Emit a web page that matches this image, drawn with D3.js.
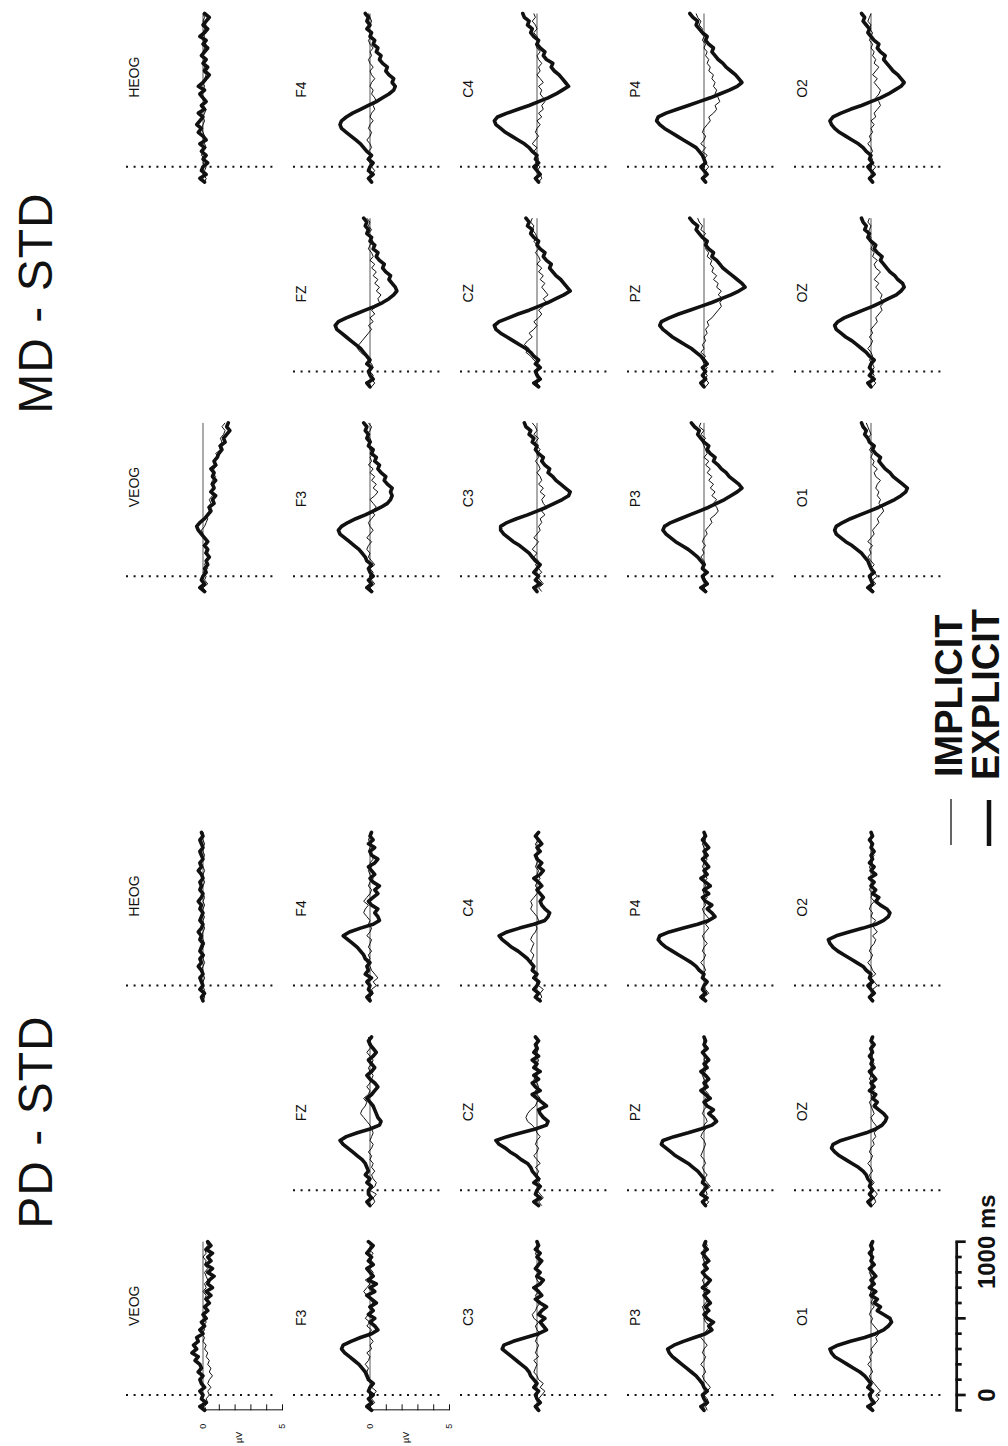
<!DOCTYPE html>
<html>
<head>
<meta charset="utf-8">
<script src="https://cdn.jsdelivr.net/npm/d3@7"></script>
<style>
  body { margin: 0; background: #fff; }
  svg { display: block; font-family: "Liberation Sans", Arial, sans-serif; }
</style>
</head>
<body>
<script>
// sample times (ms), one value every 25 ms
var times = [-100,-75,-50,-25,0, 25,50,75,100,125, 150,175,200,225,250, 275,300,325,350,375,
  400,425,450,475,500, 525,550,575,600,625, 650,675,700,725,750, 775,800,825,850,875, 900,925,950,975,1000];

var conditions = ["PD - STD", "MD - STD"];
var channelGrid = [
  ["VEOG", null, "HEOG"],
  ["F3", "FZ", "F4"],
  ["C3", "CZ", "C4"],
  ["P3", "PZ", "P4"],
  ["O1", "OZ", "O2"]
];
var uvTicks = [0, 1, 2, 3, 4, 5];
var msTicks = [-100, 0, 100, 200, 300, 400, 500, 600, 700, 800, 900, 1000];
var msMajor = [0, 500, 1000];
var legendLabels = ["IMPLICIT", "EXPLICIT"];

// ---- PD - STD (uV) ----
var pd_VEOG_exp = [0.1,-0.2,0.2,-0.1,0.0, -0.2,0.1,-0.1,-0.2,0.0, -0.3,-0.1,-0.2,-0.5,-0.3, -0.7,-0.4,-0.6,-0.3,-0.4, 0.0,-0.2,0.1,-0.1,0.2, 0.0,0.3,0.1,0.4,0.2, 0.5,0.2,0.6,0.3,0.4, 0.7,0.3,0.6,0.2,0.5, 0.3,0.6,0.2,0.5,0.3];
var pd_VEOG_imp = [0.2,0.1,0.3,0.2,0.4, 0.3,0.5,0.3,0.4,0.6, 0.4,0.5,0.3,0.4,0.2, 0.3,0.1,0.2,0.0,0.1, -0.1,0.1,0.0,0.2,0.1, 0.0,0.2,0.1,0.3,0.1, 0.2,0.0,0.2,0.1,0.3, 0.2,0.1,0.3,0.1,0.2, 0.0,0.2,0.1,0.3,0.2];
var pd_HEOG_exp = [0.0,-0.1,0.1,-0.2,0.0, -0.1,-0.2,0.0,-0.1,-0.3, -0.1,-0.2,0.0,-0.2,-0.1, 0.0,-0.2,-0.1,-0.3,-0.1, 0.0,-0.2,-0.1,0.0,-0.2, -0.1,-0.3,-0.1,0.0,-0.2, -0.1,-0.2,0.0,-0.1,-0.3, -0.1,-0.2,0.0,-0.1,-0.2, 0.0,-0.1,-0.2,0.0,-0.1];
var pd_HEOG_imp = [0.0,0.1,0.0,0.1,-0.1, 0.0,0.1,0.0,-0.1,0.0, 0.1,0.0,0.1,-0.1,0.0, 0.1,0.0,-0.1,0.0,0.1, 0.0,0.0,0.1,-0.1,0.0, 0.1,0.0,0.1,0.0,-0.1, 0.0,0.1,0.0,0.0,0.1, 0.0,-0.1,0.0,0.1,0.0, 0.0,0.1,0.0,-0.1,0.0];
var pd_F3_exp = [0.1,-0.2,0.1,-0.1,0.2, -0.1,0.0,0.2,-0.1,-0.2, -0.3,-0.5,-0.7,-1.0,-1.3, -1.6,-1.8,-1.7,-1.2,-0.6, 0.1,0.5,0.3,0.0,0.3, -0.1,0.2,0.0,0.4,0.1, -0.2,0.3,0.0,0.4,-0.1, 0.2,0.0,-0.2,0.2,-0.1, 0.1,-0.2,0.0,0.2,-0.1];
var pd_F3_imp = [0.2,0.0,0.3,0.1,0.2, 0.4,0.1,0.3,0.0,-0.1, -0.2,-0.1,-0.3,-0.1,0.0, -0.2,0.1,0.0,0.2,0.0, -0.1,0.1,-0.2,0.0,-0.3, -0.1,0.1,-0.1,0.2,0.0, -0.2,-0.4,-0.2,0.0,-0.3, 0.1,0.2,0.0,0.3,0.1, 0.0,0.2,-0.1,0.1,0.0];
var pd_FZ_exp = [0.0,-0.2,0.1,-0.1,-0.1, 0.1,-0.2,0.0,-0.3,-0.1, -0.2,-0.3,-0.5,-0.8,-1.1, -1.4,-1.7,-1.9,-1.5,-0.8, 0.0,0.6,0.7,0.5,0.4, 0.3,0.2,0.0,-0.2,0.1, 0.3,0.5,0.3,0.0,-0.2, 0.1,0.3,0.1,-0.1,0.2, 0.4,0.2,0.0,-0.1,0.1];
var pd_FZ_imp = [0.1,0.3,0.2,0.4,0.0, 0.3,0.4,0.2,0.1,0.3, 0.1,0.2,0.0,0.1,-0.1, 0.1,0.2,0.0,0.1,0.2, 0.1,0.0,-0.2,-0.4,-0.6, -0.5,-0.3,-0.2,-0.4,-0.1, 0.0,-0.2,0.0,0.1,0.2, 0.0,-0.1,0.1,0.2,0.0, -0.2,0.0,0.1,0.0,-0.1];
var pd_F4_exp = [0.0,-0.2,0.1,-0.1,0.0, -0.2,0.1,-0.3,-0.1,-0.2, 0.0,-0.3,-0.4,-0.6,-0.8, -1.1,-1.4,-1.7,-1.3,-0.6, 0.2,0.6,0.5,0.3,0.5, 0.1,-0.1,0.2,0.5,0.3, 0.6,0.2,0.0,0.3,0.1, -0.1,0.3,0.5,0.1,0.0, 0.3,-0.1,0.2,0.0,0.1];
var pd_F4_imp = [0.1,0.0,0.2,0.1,0.4, 0.2,0.5,0.3,0.1,0.0, -0.2,0.0,-0.1,0.1,-0.1, 0.0,0.1,-0.2,0.0,0.1, -0.1,0.0,-0.2,-0.4,-0.3, -0.1,-0.4,-0.2,0.0,0.1, -0.1,0.0,0.2,0.0,-0.1, 0.1,0.0,0.2,0.1,-0.1, 0.0,0.1,-0.1,0.0,0.1];
var pd_C3_exp = [0.1,-0.1,0.2,0.0,-0.1, 0.1,-0.2,0.0,-0.2,-0.4, -0.5,-0.7,-1.0,-1.3,-1.6, -1.9,-2.2,-2.1,-1.5,-0.7, 0.1,0.6,0.4,0.2,0.5, 0.1,0.3,0.6,0.2,-0.1, 0.3,0.1,-0.2,0.2,0.4, 0.0,0.2,-0.1,0.1,0.3, 0.0,0.2,-0.1,0.1,0.0];
var pd_C3_imp = [0.2,0.0,0.3,0.1,0.3, 0.5,0.2,0.4,0.1,0.0, -0.2,-0.1,0.0,-0.2,0.1, -0.1,0.0,0.1,-0.1,0.0, 0.2,0.0,-0.1,0.1,-0.2, -0.3,-0.1,0.0,0.2,0.0, -0.1,0.1,0.0,0.2,0.0, -0.1,0.1,0.0,0.2,0.1, 0.0,-0.1,0.1,0.0,0.1];
var pd_CZ_exp = [0.1,-0.2,0.2,-0.1,0.0, 0.2,-0.2,0.1,-0.1,-0.3, -0.4,-0.6,-1.0,-1.3,-1.7, -2.0,-2.4,-2.6,-1.9,-1.0, -0.1,0.6,0.7,0.4,0.2, 0.1,0.6,0.3,0.0,-0.3, 0.2,-0.1,-0.3,0.1,-0.2, 0.2,-0.2,0.0,-0.3,0.1, -0.2,0.0,-0.1,0.1,-0.1];
var pd_CZ_imp = [0.3,0.1,0.4,0.2,0.0, 0.3,0.1,0.2,0.0,0.1, -0.1,0.2,0.0,-0.2,0.0, 0.1,-0.1,0.0,0.2,0.0, -0.1,-0.3,-0.6,-0.7,-0.6, -0.4,-0.1,0.0,0.2,0.0, -0.1,0.1,0.0,-0.2,0.0, 0.1,-0.1,0.0,0.1,-0.1, 0.0,0.1,0.0,0.1,0.0];
var pd_C4_exp = [0.2,-0.1,0.1,-0.2,0.0, 0.1,-0.2,0.0,-0.3,-0.2, -0.4,-0.6,-0.9,-1.2,-1.6, -1.9,-2.2,-2.4,-1.9,-1.1, -0.2,0.5,0.7,0.8,0.5, 0.3,0.2,0.4,0.2,0.0, 0.3,0.1,-0.2,0.2,0.4, 0.1,0.3,0.0,-0.1,0.2, 0.0,0.3,0.1,-0.1,0.1];
var pd_C4_imp = [0.1,0.3,0.2,0.4,0.1, 0.2,-0.1,0.0,-0.3,-0.2, -0.4,-0.3,-0.2,-0.4,-0.3, -0.2,-0.4,-0.3,-0.1,0.0, -0.1,0.1,0.0,-0.2,-0.4, -0.3,-0.4,-0.2,0.0,0.1, -0.1,0.0,0.2,0.0,0.1, -0.1,0.0,0.1,0.0,0.2, 0.0,-0.1,0.1,0.0,0.1];
var pd_P3_exp = [0.0,-0.2,0.2,0.0,-0.1, 0.2,0.0,-0.1,-0.3,-0.5, -0.8,-1.1,-1.4,-1.7,-2.0, -2.2,-2.3,-1.9,-1.3,-0.6, 0.1,0.5,0.3,0.6,0.2, 0.0,0.3,0.1,0.4,0.2, 0.0,0.3,-0.1,0.2,0.4, 0.1,-0.1,0.2,0.0,0.3, 0.1,-0.1,0.2,0.0,0.1];
var pd_P3_imp = [0.2,0.1,0.3,0.2,0.0, 0.2,0.4,0.2,0.0,-0.1, 0.1,0.0,-0.2,0.0,0.1, -0.1,0.0,0.2,0.0,-0.2, 0.0,0.2,0.4,0.1,0.0, 0.2,0.0,-0.1,0.1,0.3, 0.1,0.0,0.2,0.0,-0.1, 0.1,0.0,0.2,0.1,0.0, -0.1,0.1,0.0,0.2,0.1];
var pd_PZ_exp = [0.1,-0.1,0.2,-0.2,0.0, 0.2,-0.1,0.0,-0.2,-0.4, -0.7,-1.0,-1.4,-1.8,-2.1, -2.4,-2.7,-2.6,-1.9,-1.0, -0.2,0.5,0.8,0.6,0.3, 0.6,0.2,0.0,0.4,0.1, -0.2,0.2,0.0,0.3,0.1, -0.2,0.2,0.0,0.3,0.1, -0.1,0.2,0.0,0.1,0.0];
var pd_PZ_imp = [0.1,0.3,0.0,0.2,0.1, 0.4,0.2,0.0,0.2,0.0, -0.1,0.1,0.0,-0.2,-0.1, 0.0,0.1,0.0,-0.2,-0.1, 0.1,0.0,0.2,0.1,-0.1, 0.0,0.2,0.0,0.1,0.3, 0.1,0.0,0.2,0.0,-0.1, 0.1,0.0,0.2,0.0,0.1, 0.0,0.2,0.1,0.0,0.1];
var pd_P4_exp = [0.1,-0.2,0.1,-0.1,0.0, 0.2,-0.1,0.0,-0.3,-0.5, -0.8,-1.2,-1.6,-2.0,-2.4, -2.7,-2.9,-2.8,-2.2,-1.3, -0.4,0.3,0.7,0.5,0.2, 0.5,0.1,-0.1,0.3,0.0, 0.4,0.1,-0.2,0.2,0.0, 0.3,0.1,-0.1,0.2,0.0, 0.3,0.1,-0.1,0.1,0.0];
var pd_P4_imp = [0.2,0.0,0.3,0.1,0.0, 0.2,0.0,-0.1,0.1,0.0, -0.2,0.0,0.1,-0.1,0.0, 0.2,0.0,-0.1,0.1,0.3, 0.1,0.4,0.2,0.0,-0.1, 0.1,0.0,0.2,0.0,-0.1, 0.1,0.0,0.2,0.0,0.1, -0.1,0.0,0.2,0.0,0.1, 0.0,-0.1,0.1,0.0,0.1];
var pd_O1_exp = [0.1,-0.2,0.2,0.0,-0.1, 0.1,-0.2,0.0,-0.2,-0.4, -0.7,-1.1,-1.5,-1.9,-2.3, -2.5,-2.6,-2.1,-1.3,-0.4, 0.3,0.8,1.1,1.3,1.2, 0.8,0.4,0.6,0.2,0.4, 0.0,0.3,-0.1,0.2,0.0, 0.3,0.1,-0.1,0.2,0.0, 0.1,-0.1,0.1,0.0,0.1];
var pd_O1_imp = [0.2,0.0,0.3,0.5,0.3, 0.6,0.4,0.2,0.0,-0.1, 0.1,0.0,-0.2,0.0,-0.1, 0.1,0.0,0.2,0.4,0.3, 0.5,0.4,0.2,0.0,0.1, -0.1,0.0,0.2,0.0,0.1, -0.1,0.0,0.1,0.0,0.2, 0.0,-0.1,0.1,0.0,0.1, 0.0,0.1,0.0,-0.1,0.0];
var pd_OZ_exp = [0.0,-0.2,0.1,-0.1,0.1, -0.1,0.0,-0.2,-0.3,-0.5, -0.8,-1.2,-1.6,-2.0,-2.3, -2.5,-2.4,-1.9,-1.1,-0.3, 0.3,0.7,0.9,1.0,0.8, 0.5,0.2,0.4,0.1,0.3, -0.1,0.2,0.0,0.3,0.1, -0.1,0.2,0.0,0.1,-0.1, 0.1,0.0,0.2,0.0,0.1];
var pd_OZ_imp = [0.1,0.3,0.2,0.4,0.2, 0.0,0.2,0.0,-0.1,0.1, 0.0,-0.2,0.0,0.1,-0.1, 0.0,0.2,0.1,0.3,0.2, 0.4,0.3,0.1,0.0,0.2, 0.1,0.0,-0.1,0.1,0.0, 0.2,0.0,0.1,-0.1,0.0, 0.1,0.0,0.2,0.0,0.1, 0.0,-0.1,0.1,0.0,0.1];
var pd_O2_exp = [0.1,-0.1,0.2,0.0,-0.2, 0.1,-0.1,0.0,-0.3,-0.5, -0.9,-1.3,-1.7,-2.1,-2.4, -2.6,-2.7,-2.2,-1.4,-0.5, 0.3,0.8,1.1,1.2,1.0, 0.6,0.3,0.5,0.1,0.3, 0.0,0.2,-0.1,0.3,0.0, 0.2,-0.1,0.1,0.0,0.2, 0.0,0.1,-0.1,0.1,0.0];
var pd_O2_imp = [0.2,0.0,0.3,0.1,0.4, 0.2,0.0,0.3,0.1,0.0, -0.2,0.0,0.1,-0.1,0.0, 0.2,0.3,0.1,0.4,0.2, 0.1,0.3,0.0,0.1,-0.1, 0.0,0.2,0.0,0.1,-0.1, 0.0,0.2,0.0,0.1,0.0, -0.1,0.1,0.0,0.2,0.0, 0.1,0.0,-0.1,0.1,0.0];

// ---- MD - STD (uV) ----
var md_VEOG_exp = [0.1,-0.2,0.1,-0.1,0.0, 0.2,0.1,0.3,0.2,0.4, 0.2,0.3,0.1,0.3,0.1, -0.1,-0.3,-0.4,-0.2,0.1, 0.3,0.5,0.4,0.7,0.6, 0.8,0.5,0.7,0.6,0.8, 0.6,0.7,0.5,0.8,0.7, 0.9,1.0,1.2,1.1,1.4, 1.3,1.5,1.7,1.5,1.6];
var md_VEOG_imp = [0.2,0.0,0.3,0.1,0.2, 0.0,0.3,0.1,0.2,0.3, 0.1,0.2,0.0,0.2,0.1, 0.0,-0.1,0.1,0.2,0.3, 0.2,0.4,0.3,0.5,0.4, 0.6,0.5,0.7,0.5,0.6, 0.8,0.6,0.7,0.9,0.7, 1.0,0.8,1.1,1.0,1.2, 1.1,1.3,1.4,1.2,1.4];
var md_HEOG_exp = [0.1,-0.2,0.2,-0.1,0.0, 0.3,0.0,0.2,-0.1,0.1, -0.2,0.2,0.0,-0.3,-0.1, -0.4,-0.2,0.0,-0.3,0.1, -0.1,0.2,0.0,-0.2,0.1, -0.3,0.0,0.2,0.4,0.1, 0.3,0.0,0.2,-0.1,0.1, 0.3,0.0,0.2,-0.2,0.1, 0.3,0.0,0.2,0.4,0.1];
var md_HEOG_imp = [0.1,0.2,0.0,0.1,0.2, 0.0,0.1,-0.1,0.0,0.2, 0.1,0.0,0.1,0.0,-0.1, 0.0,0.1,0.0,0.1,0.2, 0.0,0.1,0.0,-0.1,0.0, 0.1,0.0,0.1,0.2,0.0, 0.1,0.0,0.1,-0.1,0.0, 0.1,0.2,0.0,0.1,0.0, 0.1,0.2,0.0,0.1,0.0];
var md_F3_exp = [0.1,-0.2,0.1,-0.1,0.2, 0.0,-0.1,0.1,-0.2,-0.3, -0.5,-0.7,-1.0,-1.3,-1.6, -1.9,-2.0,-1.8,-1.4,-0.9, -0.3,0.2,0.7,1.1,1.3, 1.4,1.3,1.4,1.1,0.9, 1.0,0.7,0.5,0.6,0.3, 0.4,0.1,0.2,-0.1,0.0, -0.2,-0.1,-0.3,-0.2,-0.4];
var md_F3_imp = [0.2,0.0,0.3,0.1,0.0, 0.2,0.0,0.3,0.1,-0.1, 0.0,-0.2,-0.1,0.1,-0.2, 0.0,0.2,0.0,-0.1,0.1, 0.3,0.1,0.4,0.2,0.0, 0.3,0.5,0.2,0.4,0.1, 0.3,0.0,0.2,-0.1,0.1, 0.0,0.2,0.0,-0.1,0.1, 0.0,-0.2,0.0,0.1,-0.1];
var md_FZ_exp = [0.0,-0.2,0.2,0.0,-0.1, 0.1,-0.2,0.0,-0.2,-0.4, -0.6,-0.9,-1.2,-1.5,-1.8, -2.1,-2.2,-2.0,-1.5,-0.9, -0.3,0.3,0.8,1.2,1.5, 1.7,1.6,1.4,1.2,1.3, 1.0,0.8,0.9,0.6,0.4, 0.5,0.2,0.3,0.0,0.1, -0.2,-0.1,-0.3,-0.2,-0.4];
var md_FZ_imp = [0.1,0.3,0.1,0.2,0.0, 0.2,0.1,-0.1,-0.3,-0.6, -0.8,-0.7,-0.5,-0.3,-0.1, 0.1,-0.1,0.2,0.0,0.3, 0.1,0.4,0.6,0.5,0.7, 0.4,0.6,0.3,0.5,0.2, 0.4,0.1,0.3,0.0,0.2, 0.1,-0.1,0.0,0.2,0.0, -0.1,0.1,-0.1,0.0,-0.2];
var md_F4_exp = [0.1,-0.1,0.2,-0.1,0.0, 0.2,-0.1,0.1,-0.2,-0.4, -0.6,-0.9,-1.2,-1.5,-1.8, -1.9,-1.8,-1.5,-1.1,-0.6, -0.1,0.4,0.8,1.2,1.5, 1.6,1.4,1.5,1.2,1.0, 1.1,0.8,0.6,0.7,0.4, 0.5,0.2,0.3,0.0,0.1, -0.2,0.0,-0.2,-0.1,-0.3];
var md_F4_imp = [0.2,0.0,0.1,0.3,0.1, 0.0,-0.2,0.0,-0.1,0.1, 0.0,-0.2,0.0,0.1,-0.1, 0.0,0.2,0.0,0.1,0.3, 0.2,0.4,0.3,0.1,0.2, 0.0,0.1,0.3,0.1,0.0, 0.2,0.0,-0.1,0.1,0.0, 0.2,0.0,-0.1,0.1,0.0, -0.1,0.0,0.1,0.0,-0.1];
var md_C3_exp = [0.0,-0.2,0.2,-0.1,0.1, -0.2,0.0,0.2,-0.1,-0.3, -0.5,-0.8,-1.1,-1.5,-1.8, -2.1,-2.3,-2.3,-1.9,-1.3, -0.6,0.0,0.6,1.1,1.6, 2.0,2.1,1.8,1.5,1.2, 1.0,0.7,0.8,0.5,0.3, 0.4,0.1,-0.1,0.0,-0.3, -0.2,-0.5,-0.4,-0.7,-0.8];
var md_C3_imp = [0.3,0.1,0.4,0.2,0.0, 0.3,0.1,-0.1,0.1,-0.2, 0.0,-0.3,-0.1,0.1,-0.2, 0.0,0.2,0.1,0.3,0.2, 0.5,0.3,0.6,0.4,0.3, 0.5,0.2,0.4,0.1,0.3, 0.2,0.0,0.2,0.1,-0.1, 0.1,0.0,0.2,0.0,-0.1, 0.1,-0.2,0.0,-0.1,-0.3];
var md_CZ_exp = [0.1,-0.2,0.2,0.0,-0.1, 0.2,-0.1,0.1,-0.2,-0.4, -0.7,-1.1,-1.5,-1.9,-2.3, -2.6,-2.7,-2.4,-1.8,-1.2, -0.5,0.1,0.7,1.2,1.7, 2.1,1.9,1.7,1.5,1.2, 1.0,0.8,0.9,0.6,0.4, 0.5,0.2,0.0,0.1,-0.2, -0.4,-0.3,-0.6,-0.5,-0.7];
var md_CZ_imp = [0.2,0.0,0.3,0.1,0.0, 0.3,0.1,-0.2,-0.4,-0.7, -0.5,-0.8,-0.6,-0.3,-0.5, -0.2,0.0,-0.2,0.1,0.3, 0.1,0.4,0.6,0.4,0.7, 0.5,0.3,0.5,0.2,0.4, 0.1,0.3,0.0,0.2,0.1, -0.1,0.1,0.0,-0.2,0.0, -0.1,-0.3,-0.2,-0.4,-0.3];
var md_C4_exp = [0.1,-0.1,0.2,0.0,-0.2, 0.1,-0.1,0.0,-0.3,-0.5, -0.8,-1.2,-1.6,-2.0,-2.3, -2.6,-2.7,-2.5,-1.9,-1.2, -0.5,0.1,0.7,1.2,1.6, 2.0,1.8,1.6,1.4,1.1, 0.9,1.0,0.6,0.4,0.5, 0.2,0.0,0.1,-0.2,-0.4, -0.3,-0.6,-0.5,-0.8,-0.9];
var md_C4_imp = [0.1,0.3,0.2,0.0,0.2, -0.1,0.1,0.0,-0.2,0.0, -0.3,-0.1,0.1,-0.1,0.0, 0.2,0.0,0.3,0.1,0.4, 0.3,0.5,0.4,0.2,0.3, 0.1,0.4,0.2,0.0,0.2, 0.1,0.3,0.1,0.0,0.2, 0.0,-0.1,0.1,0.0,-0.2, 0.0,-0.1,-0.3,-0.1,-0.2];
var md_P3_exp = [0.1,-0.2,0.2,0.0,-0.1, 0.2,-0.1,0.0,-0.2,-0.4, -0.7,-1.0,-1.4,-1.8,-2.1, -2.4,-2.6,-2.5,-2.1,-1.5, -0.9,-0.3,0.3,0.8,1.3, 1.7,2.1,2.4,2.2,1.9, 1.6,1.4,1.1,0.9,0.6, 0.7,0.4,0.2,0.3,0.0, -0.2,-0.4,-0.3,-0.6,-0.8];
var md_P3_imp = [0.2,0.0,0.3,0.1,0.0, 0.2,-0.1,0.1,0.0,-0.2, 0.0,-0.1,0.1,-0.1,0.0, 0.2,0.1,0.3,0.5,0.4, 0.7,0.9,0.8,0.6,0.8, 0.5,0.7,0.4,0.6,0.3, 0.5,0.2,0.4,0.1,0.3, 0.0,0.2,0.1,0.0,-0.1, 0.1,-0.2,0.0,-0.3,-0.2];
var md_PZ_exp = [0.0,-0.2,0.1,-0.1,0.1, -0.1,0.2,0.0,-0.2,-0.5, -0.8,-1.2,-1.6,-2.0,-2.3, -2.6,-2.8,-2.7,-2.2,-1.6, -0.9,-0.2,0.5,1.1,1.7, 2.2,2.6,2.4,2.1,1.8, 1.5,1.2,1.0,0.8,0.5, 0.6,0.3,0.1,0.2,-0.1, -0.3,-0.5,-0.4,-0.7,-0.9];
var md_PZ_imp = [0.1,0.3,0.1,0.2,0.0, 0.2,0.0,-0.1,0.1,-0.2, 0.0,-0.1,0.1,0.0,0.2, 0.1,0.3,0.2,0.5,0.7, 0.9,1.1,1.0,1.2,0.9, 1.1,0.8,0.9,0.6,0.8, 0.5,0.6,0.4,0.5,0.2, 0.3,0.1,0.2,0.0,-0.1, 0.1,-0.2,-0.1,-0.3,-0.4];
var md_P4_exp = [0.1,-0.1,0.2,0.0,-0.2, 0.1,0.0,-0.1,-0.3,-0.5, -0.9,-1.3,-1.7,-2.1,-2.5, -2.8,-3.0,-2.9,-2.4,-1.7, -1.0,-0.3,0.4,1.0,1.6, 2.1,2.4,2.2,2.0,1.7, 1.4,1.2,0.9,0.7,0.5, 0.6,0.3,0.1,0.2,-0.1, -0.3,-0.5,-0.4,-0.7,-0.9];
var md_P4_imp = [0.2,0.0,0.2,0.1,0.3, 0.1,0.0,0.2,-0.1,0.1, -0.2,0.0,0.1,-0.1,0.0, 0.2,0.4,0.3,0.6,0.8, 0.7,1.0,0.9,0.7,0.8, 0.6,0.7,0.5,0.6,0.3, 0.4,0.2,0.3,0.1,0.2, 0.0,0.1,-0.1,0.0,-0.2, -0.1,-0.3,-0.2,-0.4,-0.5];
var md_O1_exp = [0.1,-0.2,0.1,0.0,-0.1, 0.2,0.0,-0.1,-0.2,-0.4, -0.6,-0.9,-1.2,-1.6,-1.9, -2.2,-2.3,-2.2,-1.8,-1.3, -0.7,-0.1,0.5,1.0,1.5, 1.9,2.2,2.3,2.0,1.7, 1.4,1.2,0.9,0.7,0.5, 0.6,0.3,0.1,0.2,-0.1, -0.2,-0.4,-0.3,-0.5,-0.6];
var md_O1_imp = [0.2,0.0,0.3,0.1,0.4, 0.2,0.0,0.2,0.0,-0.2, 0.0,-0.1,0.1,-0.2,0.0, 0.2,0.1,0.3,0.5,0.4, 0.6,0.8,0.7,0.5,0.6, 0.4,0.5,0.3,0.4,0.6, 0.3,0.2,0.4,0.1,0.2, 0.0,0.1,-0.1,0.1,0.0, -0.2,0.0,-0.1,-0.2,-0.3];
var md_OZ_exp = [0.0,-0.2,0.2,-0.1,0.1, -0.1,0.0,0.2,-0.1,-0.3, -0.6,-0.9,-1.2,-1.6,-1.9, -2.2,-2.3,-2.1,-1.7,-1.1, -0.5,0.1,0.6,1.1,1.6, 1.9,2.1,2.0,1.7,1.5, 1.2,1.0,0.8,0.6,0.7, 0.4,0.2,0.3,0.0,-0.2, -0.1,-0.4,-0.3,-0.5,-0.6];
var md_OZ_imp = [0.1,0.3,0.1,0.2,0.0, 0.2,0.1,-0.1,0.1,0.0, -0.2,0.0,0.1,-0.1,0.1, 0.0,0.2,0.4,0.3,0.5, 0.7,0.6,0.8,0.6,0.7, 0.5,0.3,0.5,0.2,0.4, 0.6,0.3,0.2,0.4,0.1, 0.2,0.0,0.1,-0.1,0.0, -0.2,-0.1,0.0,-0.2,-0.1];
var md_O2_exp = [0.1,-0.1,0.2,0.0,-0.2, 0.1,-0.1,0.0,-0.3,-0.5, -0.8,-1.2,-1.6,-2.0,-2.3, -2.5,-2.6,-2.4,-1.9,-1.3, -0.6,0.0,0.6,1.1,1.5, 1.9,2.1,1.9,1.7,1.4, 1.2,1.0,0.8,0.9,0.6, 0.4,0.5,0.2,0.0,-0.2, -0.1,-0.3,-0.5,-0.4,-0.6];
var md_O2_imp = [0.2,0.0,0.2,0.1,0.3, 0.0,0.1,-0.1,0.1,0.0, -0.2,0.0,-0.1,0.1,0.0, 0.2,0.0,0.3,0.2,0.4, 0.6,0.5,0.3,0.5,0.6, 0.4,0.2,0.4,0.1,0.3, 0.5,0.2,0.3,0.1,0.2, 0.0,0.1,-0.1,0.0,0.1, -0.1,0.0,-0.2,-0.1,0.0];

// lookup table built from the arrays above: [explicit, implicit]
var waves = {
  "PD - STD": {
    VEOG: [pd_VEOG_exp, pd_VEOG_imp], HEOG: [pd_HEOG_exp, pd_HEOG_imp],
    F3: [pd_F3_exp, pd_F3_imp], FZ: [pd_FZ_exp, pd_FZ_imp], F4: [pd_F4_exp, pd_F4_imp],
    C3: [pd_C3_exp, pd_C3_imp], CZ: [pd_CZ_exp, pd_CZ_imp], C4: [pd_C4_exp, pd_C4_imp],
    P3: [pd_P3_exp, pd_P3_imp], PZ: [pd_PZ_exp, pd_PZ_imp], P4: [pd_P4_exp, pd_P4_imp],
    O1: [pd_O1_exp, pd_O1_imp], OZ: [pd_OZ_exp, pd_OZ_imp], O2: [pd_O2_exp, pd_O2_imp]
  },
  "MD - STD": {
    VEOG: [md_VEOG_exp, md_VEOG_imp], HEOG: [md_HEOG_exp, md_HEOG_imp],
    F3: [md_F3_exp, md_F3_imp], FZ: [md_FZ_exp, md_FZ_imp], F4: [md_F4_exp, md_F4_imp],
    C3: [md_C3_exp, md_C3_imp], CZ: [md_CZ_exp, md_CZ_imp], C4: [md_C4_exp, md_C4_imp],
    P3: [md_P3_exp, md_P3_imp], PZ: [md_PZ_exp, md_PZ_imp], P4: [md_P4_exp, md_P4_imp],
    O1: [md_O1_exp, md_O1_imp], OZ: [md_OZ_exp, md_OZ_imp], O2: [md_O2_exp, md_O2_imp]
  }
};

// layout (in the unrotated figure frame: 1446 wide x 1008 tall)
var figW = 1446, figH = 1008;
var colZero = { "PD - STD": [51, 255.7, 460.4], "MD - STD": [869.8, 1074.5, 1279.2] };
var titleX = { "PD - STD": 324, "MD - STD": 1143 };
var rowBase = [203, 370, 537, 704, 871];
var pxPerSec = 153.3;   // 1000 ms
var pxPer5uV = 79;      // 5 uV

var svg = d3.select("body").append("svg")
  .attr("width", 1008)
  .attr("height", 1446);

svg.append("rect").attr("width", 1008).attr("height", 1446).attr("fill", "#fff");

// whole figure is printed turned 90 degrees counter-clockwise
var fig = svg.append("g")
  .attr("transform", "translate(0," + figW + ") rotate(-90)");

conditions.forEach(function(cond) {
  fig.append("text")
    .attr("x", titleX[cond])
    .attr("y", 52)
    .attr("text-anchor", "middle")
    .attr("font-size", 48)
    .attr("letter-spacing", 1)
    .attr("fill", "#111")
    .text(cond);

  channelGrid.forEach(function(row, r) {
    row.forEach(function(ch, c) {
      if (!ch) return;
      var t0 = colZero[cond][c];
      var x = d3.scaleLinear().domain([0, 1000]).range([t0, t0 + pxPerSec]);
      var y = d3.scaleLinear().domain([0, 5]).range([rowBase[r], rowBase[r] + pxPer5uV]);
      var g = fig.append("g").attr("class", "plot");

      // zero line
      g.append("line")
        .attr("x1", x(-100)).attr("x2", x(1000))
        .attr("y1", y(0)).attr("y2", y(0))
        .attr("stroke", "#444").attr("stroke-width", 0.9);

      // stimulus onset, dotted
      g.append("line")
        .attr("x1", x(0)).attr("x2", x(0))
        .attr("y1", y(0) - 77).attr("y2", y(0) + 75)
        .attr("stroke", "#111").attr("stroke-width", 2)
        .attr("stroke-dasharray", "2,5.6");

      g.append("text")
        .attr("x", x(450))
        .attr("y", y(0) - 64)
        .attr("font-size", 14)
        .attr("fill", "#111")
        .text(ch);

      var line = d3.line()
        .x(function(d, i) { return x(times[i]); })
        .y(function(d) { return y(d); });

      // implicit = thin, explicit = thick
      g.append("path")
        .attr("d", line(waves[cond][ch][1]))
        .attr("fill", "none").attr("stroke", "#111")
        .attr("stroke-width", 1).attr("stroke-linejoin", "round");
      g.append("path")
        .attr("d", line(waves[cond][ch][0]))
        .attr("fill", "none").attr("stroke", "#111")
        .attr("stroke-width", 3.6).attr("stroke-linejoin", "round")
        .attr("stroke-linecap", "round");

      // uV scale under the first two plots of PD
      if (cond === "PD - STD" && c === 0 && r < 2) {
        var sx = x(-100);
        var sc = g.append("g").attr("transform", "translate(" + sx + ",0)");
        sc.call(d3.axisRight(y).tickValues(uvTicks).tickSize(6).tickSizeOuter(0).tickFormat(""));
        sc.select(".domain").attr("stroke", "#111").attr("stroke-width", 1);
        sc.selectAll(".tick line").attr("stroke", "#111");
        [0, 5].forEach(function(v) {
          g.append("text")
            .attr("x", sx - 16).attr("y", y(v))
            .attr("text-anchor", "middle").attr("dominant-baseline", "central")
            .attr("font-size", 9).attr("fill", "#111")
            .text(v);
        });
        g.append("text")
          .attr("x", sx - 27).attr("y", y(2.3))
          .attr("text-anchor", "middle").attr("dominant-baseline", "central")
          .attr("font-size", 9).attr("fill", "#111")
          .text("\u00b5V");
      }
    });
  });
});

// time scale bar
var tx = d3.scaleLinear().domain([0, 1000]).range([colZero["PD - STD"][0], colZero["PD - STD"][0] + pxPerSec]);
var barY = 956.7;
var bar = fig.append("g").attr("stroke", "#111").attr("stroke-width", 2.7);
bar.append("line")
  .attr("x1", tx(-100)).attr("x2", tx(1000))
  .attr("y1", barY).attr("y2", barY);
bar.selectAll(".tk")
  .data(msTicks)
  .join("line")
  .attr("x1", function(d) { return tx(d); })
  .attr("x2", function(d) { return tx(d); })
  .attr("y1", barY - 1.3)
  .attr("y2", function(d) { return barY + (msMajor.indexOf(d) >= 0 ? 9 : 5); });

fig.selectAll(".msLabel")
  .data([[0, "0"], [1000, "1000 ms"]])
  .join("text")
  .attr("x", function(d) { return tx(d[0]); })
  .attr("y", 995)
  .attr("text-anchor", "middle")
  .attr("font-size", 24)
  .attr("font-weight", "bold")
  .attr("fill", "#111")
  .text(function(d) { return d[1]; });

// legend
var legend = fig.append("g");
legend.append("line")
  .attr("x1", 601).attr("x2", 647).attr("y1", 951).attr("y2", 951)
  .attr("stroke", "#111").attr("stroke-width", 1.3);
legend.append("line")
  .attr("x1", 600).attr("x2", 646).attr("y1", 989).attr("y2", 989)
  .attr("stroke", "#111").attr("stroke-width", 4.5);
legend.selectAll("text")
  .data(legendLabels)
  .join("text")
  .attr("x", function(d, i) { return i === 0 ? 669 : 666; })
  .attr("y", function(d, i) { return i === 0 ? 962 : 999; })
  .attr("font-size", 38)
  .attr("font-weight", "bold")
  .attr("fill", "#111")
  .text(function(d) { return d; });
</script>
</body>
</html>
